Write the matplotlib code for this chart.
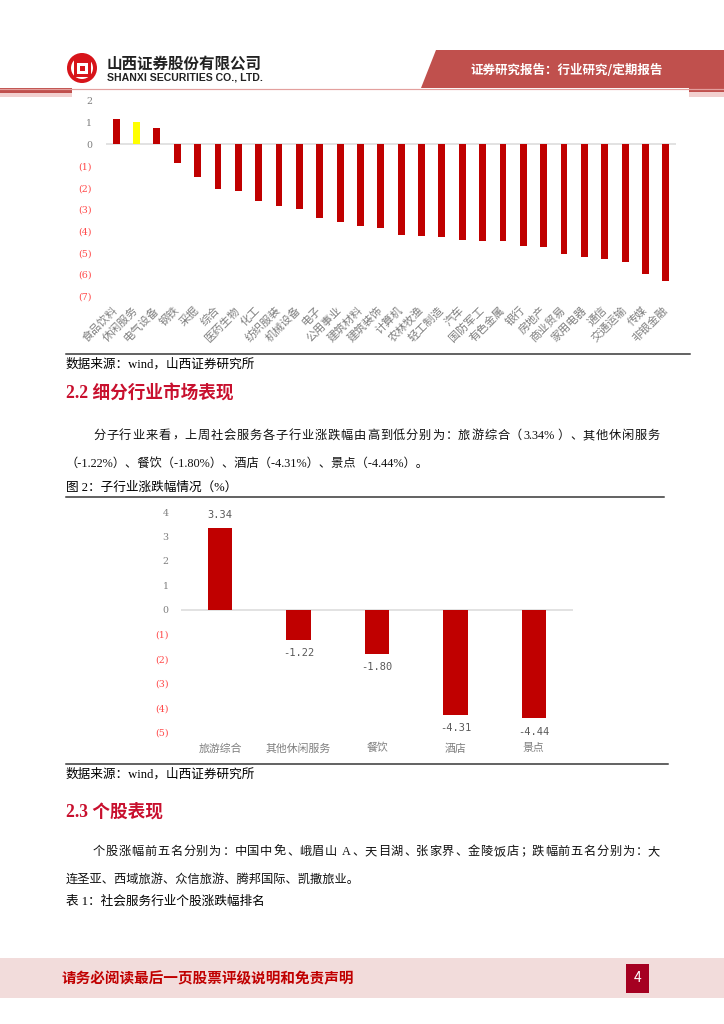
import matplotlib
matplotlib.use('Agg')
import matplotlib.pyplot as plt
from matplotlib.patches import Polygon, Rectangle, Circle

W, H = 724, 1024
CJK = ['Noto Sans CJK SC', 'DejaVu Sans']
BODY = ['Liberation Serif', 'Noto Sans CJK SC', 'DejaVu Sans']
plt.rcParams['font.family'] = CJK

# ---------------- data ----------------
industries = ['食品饮料', '休闲服务', '电气设备', '钢铁', '采掘', '综合', '医药生物', '化工',
              '纺织服装', '机械设备', '电子', '公用事业', '建筑材料', '建筑装饰', '计算机',
              '农林牧渔', '轻工制造', '汽车', '国防军工', '有色金属', '银行', '房地产',
              '商业贸易', '家用电器', '通信', '交通运输', '传媒', '非银金融']
industry_changes = [1.17, 1.05, 0.75, -0.86, -1.49, -2.08, -2.14, -2.61,
                    -2.83, -2.97, -3.40, -3.58, -3.78, -3.88, -4.20,
                    -4.21, -4.26, -4.40, -4.45, -4.46, -4.68, -4.74,
                    -5.05, -5.21, -5.29, -5.42, -5.98, -6.32]
highlight = '休闲服务'

sub_industries = ['旅游综合', '其他休闲服务', '餐饮', '酒店', '景点']
sub_changes = [3.34, -1.22, -1.80, -4.31, -4.44]

y1_ticks = [2, 1, 0, -1, -2, -3, -4, -5, -6, -7]
y2_ticks = [4, 3, 2, 1, 0, -1, -2, -3, -4, -5]

RED = '#c00000'
GRAY = '#7f7f7f'
NEG = '#ff4b4b'
TITLE_RED = '#c8102e'


def tick_fmt(v):
    return str(v) if v >= 0 else '({})'.format(-v)


fig = plt.figure(figsize=(W / 100, H / 100), dpi=100)
bg = fig.add_axes([0, 0, 1, 1])
bg.set_xlim(0, W)
bg.set_ylim(H, 0)
bg.axis('off')
renderer = fig.canvas.get_renderer()


def px_axes(x0, y0, x1, y1):
    ax = fig.add_axes([x0 / W, 1 - y1 / H, (x1 - x0) / W, (y1 - y0) / H])
    ax.set_facecolor('none')
    return ax


def lw(px):
    return px * 0.72


def tokenize(s):
    toks, buf = [], ''
    for ch in s:
        if ord(ch) < 128:
            buf += ch
        else:
            if buf:
                toks.append(buf)
                buf = ''
            toks.append(ch)
    if buf:
        toks.append(buf)
    return toks


LEFT_PUNCT = '，、。：；）'
RIGHT_PUNCT = '（'


def justified(x0, x1, y, s, **kw):
    em = kw['fontsize'] * 100 / 72
    items = []
    for tok in tokenize(s):
        if ord(tok[0]) >= 128:
            items.append((tok, em))
        else:
            core = tok.strip(' ')
            nsp = len(tok) - len(core)
            w = 0
            if core:
                probe = bg.text(0, 0, core, **kw)
                w = probe.get_window_extent(renderer).width
                probe.remove()
            items.append((tok, w + 0.3 * em * nsp + 0.1 * em))
    extra = (x1 - x0 - sum(it[1] for it in items)) / (len(items) - 1)
    x = x0
    for tok, w in items:
        if ord(tok[0]) >= 128:
            if tok in LEFT_PUNCT:
                bg.text(x + 0.08 * em, y, tok, ha='left', va='center', **kw)
            elif tok in RIGHT_PUNCT:
                bg.text(x + 0.92 * em, y, tok, ha='right', va='center', **kw)
            else:
                bg.text(x + 0.5 * em, y, tok, ha='center', va='center', **kw)
        else:
            core = tok.strip(' ')
            lead = len(tok) - len(tok.lstrip(' '))
            if core:
                bg.text(x + 0.3 * em * lead + 0.05 * em, y, core, ha='left', va='center', **kw)
        x += w + extra


# ---------------- header ----------------
bg.add_patch(Polygon([(436, 50), (724, 50), (724, 92), (689, 92), (689, 88), (421, 88)],
                     closed=True, fc='#c0504d', ec='none'))
bg.text(567, 71, '证券研究报告：行业研究/定期报告', color='white', fontsize=9,
        fontweight='bold', ha='center', va='center')
bg.plot([0, 724], [88.5, 88.5], color='#e3a09e', lw=lw(1.2))
bg.add_patch(Rectangle((0, 88), 72, 4.5, fc='#c0504d', ec='none'))
bg.add_patch(Rectangle((0, 92.5), 72, 4.5, fc='#f2d0cf', ec='none'))
bg.add_patch(Rectangle((689, 92), 35, 5, fc='#f2d0cf', ec='none'))

# logo
LR = '#d7141a'
bg.add_patch(Circle((82, 68), 13, fill=False, ec=LR, lw=lw(4)))
bg.add_patch(Rectangle((75, 61), 14, 14, fill=False, ec=LR, lw=lw(3)))
bg.add_patch(Rectangle((79.5, 65.5), 5, 5, fc=LR, ec='none'))
bg.add_patch(Rectangle((72, 57), 20, 2.6, fc=LR, ec='none'))
bg.text(107, 63.5, '山西证券股份有限公司', fontsize=11.2, fontweight='bold', color='#222222',
        ha='left', va='center')
bg.text(107, 77.5, 'SHANXI SECURITIES CO., LTD.', fontsize=7.6, fontweight='bold',
        color='#222222', ha='left', va='center', family='Liberation Sans')

# ---------------- chart 1 ----------------
ax1 = px_axes(106, 101, 676, 296)
x1 = list(range(len(industries)))
colors1 = ['#ffff00' if n == highlight else RED for n in industries]
ax1.bar(x1, industry_changes, width=0.34, color=colors1, zorder=2)
ax1.axhline(0, color='#d9d9d9', lw=lw(1.5), zorder=1)
ax1.set_xlim(-0.5, len(industries) - 0.5)
ax1.set_ylim(-7, 2)
for s in ax1.spines.values():
    s.set_visible(False)
ax1.set_yticks(y1_ticks)
ax1.set_yticklabels([tick_fmt(v) for v in y1_ticks], fontsize=6.8,
                    family=['DejaVu Serif'])
for lab, v in zip(ax1.get_yticklabels(), y1_ticks):
    lab.set_color(GRAY if v >= 0 else NEG)
ax1.tick_params(axis='y', length=0, pad=10)
ax1.set_xticks(x1)
ax1.set_xticklabels(industries, rotation=45, ha='right', va='center',
                    rotation_mode='anchor', fontsize=8, color=GRAY)
ax1.tick_params(axis='x', length=0, pad=9)

CAP = dict(fontsize=9.1, color='black', family=BODY, fontweight='medium')
TXT = dict(fontsize=8.8, color='#111111', family=BODY)

bg.plot([66, 690], [354, 354], color='#333333', lw=lw(1.5))
bg.text(66, 364, '数据来源：wind，山西证券研究所', ha='left', va='center', **CAP)

# ---------------- section 2.2 ----------------
bg.text(66, 393, '2.2 细分行业市场表现', fontsize=12.7, color=TITLE_RED, fontweight='bold',
        ha='left', va='center', family=['Liberation Serif', 'Noto Sans CJK SC'])
justified(93, 660, 436, '分子行业来看，上周社会服务各子行业涨跌幅由高到低分别为：旅游综合（3.34%）、其他休闲服务', **TXT)
bg.text(66, 464, '（-1.22%）、餐饮（-1.80%）、酒店（-4.31%）、景点（-4.44%）。',
        ha='left', va='center', **TXT)
bg.text(66, 488, '图 2：子行业涨跌幅情况（%）', ha='left', va='center', **CAP)
bg.plot([66, 664], [496.5, 496.5], color='#333333', lw=lw(1.5))

# ---------------- chart 2 ----------------
ax2 = px_axes(181, 512, 573, 732)
x2 = list(range(len(sub_industries)))
ax2.bar(x2, sub_changes, width=0.31, color=RED, zorder=2)
ax2.axhline(0, color='#d9d9d9', lw=lw(1.5), zorder=1)
ax2.set_xlim(-0.5, len(sub_industries) - 0.5)
ax2.set_ylim(-5, 4)
for s in ax2.spines.values():
    s.set_visible(False)
ax2.set_yticks(y2_ticks)
ax2.set_yticklabels([tick_fmt(v) for v in y2_ticks], fontsize=6.8,
                    family=['DejaVu Serif'])
for lab, v in zip(ax2.get_yticklabels(), y2_ticks):
    lab.set_color(GRAY if v >= 0 else NEG)
ax2.tick_params(axis='y', length=0, pad=9)
ax2.set_xticks(x2)
ax2.set_xticklabels(sub_industries, fontsize=7.8, color=GRAY)
ax2.tick_params(axis='x', length=0, pad=8)
for xi, v in zip(x2, sub_changes):
    ax2.annotate('{:.2f}'.format(v), (xi, v), xytext=(0, 9.5 if v >= 0 else -9.5),
                 textcoords='offset points', ha='center', va='center',
                 fontsize=7.5, color='#595959', family='DejaVu Sans Mono')

bg.plot([66, 668], [764, 764], color='#333333', lw=lw(1.5))
bg.text(66, 774, '数据来源：wind，山西证券研究所', ha='left', va='center', **CAP)

# ---------------- section 2.3 ----------------
bg.text(66, 812, '2.3 个股表现', fontsize=12.7, color=TITLE_RED, fontweight='bold',
        ha='left', va='center', family=['Liberation Serif', 'Noto Sans CJK SC'])
justified(93, 660, 852, '个股涨幅前五名分别为：中国中免、峨眉山 A、天目湖、张家界、金陵饭店；跌幅前五名分别为：大', **TXT)
bg.text(66, 880, '连圣亚、西域旅游、众信旅游、腾邦国际、凯撒旅业。',
        ha='left', va='center', **TXT)
bg.text(66, 902, '表 1：社会服务行业个股涨跌幅排名', ha='left', va='center', **CAP)

# ---------------- footer ----------------
bg.add_patch(Rectangle((0, 958), 724, 40, fc='#f2dcdb', ec='none'))
bg.text(62, 978, '请务必阅读最后一页股票评级说明和免责声明', fontsize=10.5, color='#c00000',
        fontweight='bold', ha='left', va='center')
bg.add_patch(Rectangle((626, 964), 23, 29, fc='#a50021', ec='none'))
bg.text(637.5, 978.5, '4', fontsize=10, color='white', ha='center', va='center')

fig.savefig('out.png', dpi=100)
